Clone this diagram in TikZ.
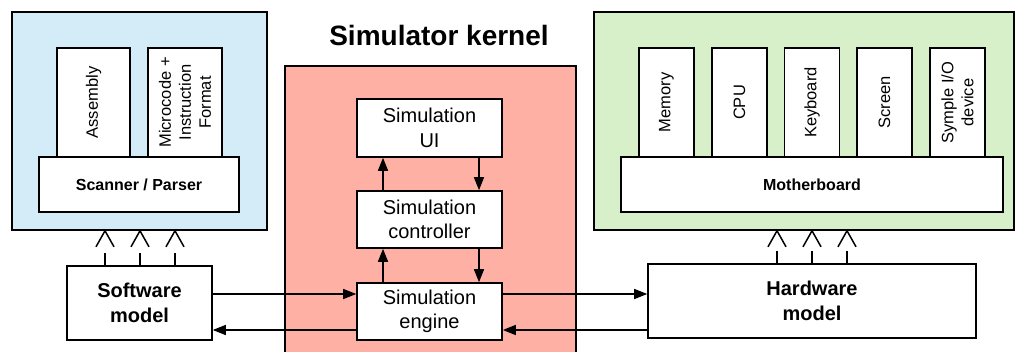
\documentclass[tikz,border=0pt]{standalone}
\usepackage{fontspec}
\setmainfont{Liberation Sans}
\usetikzlibrary{arrows.meta,calc}
\definecolor{swblue}{RGB}{212,235,248}
\definecolor{kred}{RGB}{254,176,164}
\definecolor{hwgreen}{RGB}{216,240,201}
\tikzset{
  box/.style={draw, fill=white, line width=1.6pt, inner sep=0pt, align=center},
  area/.style={draw, line width=1.6pt, inner sep=0pt},
  arr/.style={line width=1.5pt, -{Triangle[length=13pt,width=10pt]}},
  simtext/.style={font=\fontsize{20}{24.5}\selectfont},
  modtext/.style={font=\bfseries\fontsize{20}{25}\selectfont},
  bartext/.style={font=\bfseries\fontsize{16}{19}\selectfont},
  vtext/.style={font=\fontsize{16.5}{20}\selectfont},
  openv/.style={line width=1.5pt},
}
\begin{document}
\begin{tikzpicture}[x=1pt,y=-1pt]
\useasboundingbox (0,0) rectangle (1016,352);
% areas
\node[area, fill=swblue, minimum width=255pt, minimum height=218pt] (swarea) at (139.5,121) {};
\node[area, fill=kred, minimum width=291pt, minimum height=300pt] (karea) at (430.5,216) {};
\node[area, fill=hwgreen, minimum width=420pt, minimum height=218pt] (hwarea) at (804,121) {};
\node[font=\bfseries\fontsize{28}{32}\selectfont] (title) at (439,35) {Simulator kernel};
% software side
\node[box, vtext, rotate=90, minimum width=109pt, minimum height=73pt] (asm) at (93.5,102.5) {Assembly};
\node[box, vtext, rotate=90, minimum width=109pt, minimum height=74pt] (micro) at (185,102.5) {Microcode +\\Instruction\\Format};
\node[box, bartext, minimum width=200pt, minimum height=55pt] (parser) at (139,184.5) {Scanner / Parser};
% hardware side
\node[box, vtext, rotate=90, minimum width=109pt, minimum height=55pt] (mem) at (666.5,102.5) {Memory};
\node[box, vtext, rotate=90, minimum width=109pt, minimum height=55pt] (cpu) at (739.5,102.5) {CPU};
\node[box, vtext, rotate=90, minimum width=109pt, minimum height=55pt] (kbd) at (812,102.5) {Keyboard};
\node[box, vtext, rotate=90, minimum width=109pt, minimum height=55pt] (scr) at (884.5,102.5) {Screen};
\node[box, vtext, rotate=90, minimum width=109pt, minimum height=55pt] (io) at (957.5,102.5) {Symple I/O\\device};
\node[box, bartext, minimum width=382pt, minimum height=55pt] (mobo) at (812,184.5) {Motherboard};
% kernel
\node[box, simtext, minimum width=145pt, minimum height=58pt] (ui) at (429.5,128) {Simulation\\UI};
\node[box, simtext, minimum width=145pt, minimum height=57pt] (ctl) at (429.5,219.5) {Simulation\\controller};
\node[box, simtext, minimum width=145pt, minimum height=57pt] (eng) at (429.5,311.5) {Simulation\\engine};
% models
\node[box, modtext, minimum width=145pt, minimum height=74pt] (sw) at (139.5,303) {Software\\model};
\node[box, modtext, minimum width=328pt, minimum height=74pt] (hw) at (812,301) {Hardware\\model};
% kernel arrows
\draw[arr] (ctl.north -| 383,0) -- (ui.south -| 383,0);
\draw[arr] (ui.south -| 479,0) -- (ctl.north -| 479,0);
\draw[arr] (eng.north -| 383,0) -- (ctl.south -| 383,0);
\draw[arr] (ctl.south -| 479,0) -- (eng.north -| 479,0);
% model arrows
\draw[arr] (sw.east |- 0,294) -- (eng.west |- 0,294);
\draw[arr] (eng.west |- 0,330) -- (sw.east |- 0,330);
\draw[arr] (eng.east |- 0,294) -- (hw.west |- 0,294);
\draw[arr] (hw.west |- 0,330) -- (eng.east |- 0,330);
% open arrows to areas
\foreach \x in {105,140,175}{
  \draw[openv] (sw.north -| \x,0) -- ++(0,-12);
  \draw[openv] ($(swarea.south -| \x,0)+(-9,16)$) -- (swarea.south -| \x,0) -- ($(swarea.south -| \x,0)+(9,16)$);
}
\foreach \x in {777,812,847}{
  \draw[openv] (hw.north -| \x,0) -- ++(0,-12);
  \draw[openv] ($(hwarea.south -| \x,0)+(-9,16)$) -- (hwarea.south -| \x,0) -- ($(hwarea.south -| \x,0)+(9,16)$);
}
\end{tikzpicture}
\end{document}
